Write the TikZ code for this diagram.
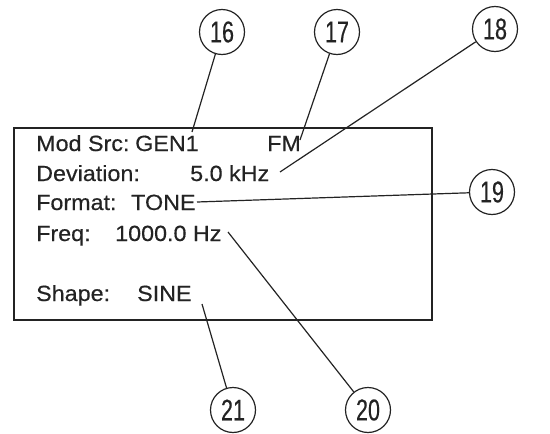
\documentclass[tikz,border=0pt]{standalone}
\usepackage{fontspec}
\setmainfont{Liberation Sans}
\newfontfamily\panelfont[FakeStretch=1.06, FakeBold=0.4]{Liberation Sans}
\newfontfamily\calloutfont[FakeStretch=0.72, FakeBold=0.4]{Liberation Sans}
\usepackage{tikz}
\usetikzlibrary{positioning}
\definecolor{myink}{RGB}{35,35,35}
\tikzset{
  callout/.style={circle, draw=myink, line width=1.2pt, minimum size=45pt,
    inner sep=0pt, text=myink, font=\calloutfont\fontsize{30}{30}\selectfont},
  paneltext/.style={anchor=base west, inner sep=0pt, text=myink,
    font=\panelfont\fontsize{22}{24}\selectfont},
  leader/.style={draw=myink, line width=1.2pt},
  panel/.style={draw=myink, line width=1.2pt}
}

\begin{document}
\begin{tikzpicture}[x=1pt, y=-1pt]
  \useasboundingbox (0,0) rectangle (550,434);

  % Display panel
  \draw[panel] (14,128) rectangle (432,320);

  % Panel text
  \node[paneltext] (modsrc) at (36,151) {Mod Src:};
  \node[paneltext] (gen) at (135,151) {GEN1};
  \node[paneltext] (fm) at (267,151) {FM};
  \node[paneltext] (dev) at (36,181) {Deviation:};
  \node[paneltext] (devval) at (190,181) {5.0 kHz};
  \node[paneltext] (fmt) at (36,210) {Format:};
  \node[paneltext] (tone) at (131,210) {TONE};
  \node[paneltext] (freq) at (36,241) {Freq:};
  \node[paneltext] (freqval) at (115,241) {1000.0 Hz};
  \node[paneltext] (shape) at (36,301) {Shape:};
  \node[paneltext] (sine) at (137,301) {SINE};

  % Callout circles
  \node[callout] (c16) at (222,32) {16};
  \node[callout] (c17) at (337,32) {17};
  \node[callout] (c18) at (495,29) {18};
  \node[callout] (c19) at (492,192) {19};
  \node[callout] (c20) at (368,410) {20};
  \node[callout] (c21) at (233,410) {21};

  % Leader ends
  \coordinate (p16) at (192,132);
  \coordinate (p17) at (300,140);
  \coordinate (p18) at (280,172);
  \coordinate (p19) at (197,202);
  \coordinate (p20) at (228,232);
  \coordinate (p21) at (202,304);

  % Leaders
  \draw[leader] (c16) -- (p16);
  \draw[leader] (c17) -- (p17);
  \draw[leader] (c18) -- (p18);
  \draw[leader] (c19) -- (p19);
  \draw[leader] (c20) -- (p20);
  \draw[leader] (c21) -- (p21);
\end{tikzpicture}
\end{document}
